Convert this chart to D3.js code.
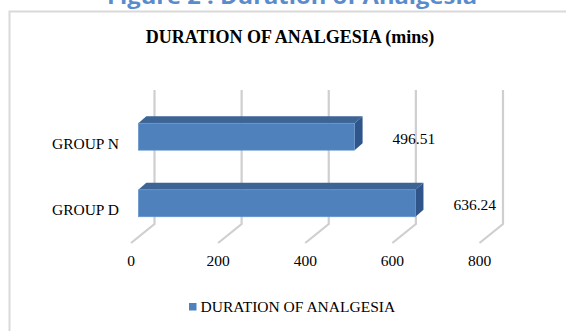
<!DOCTYPE html>
<html lang="en">
    <head>
        <meta charset="utf-8">
        <title>Duration of Analgesia</title>
        <script src="https://d3js.org/d3.v7.min.js"></script>
        <style type="text/css">
            html, body {
                margin: 0;
                padding: 0;
                background-color: white;
            }
            svg {
                display: block;
            }
            .serif {
                font-family: 'Liberation Serif', 'Times New Roman', serif;
                fill: black;
            }
        </style>
    </head>
    <body>
        <script type="text/javascript">
            // data
            const categories = ["GROUP N", "GROUP D"];
            const durations = [496.51, 636.24];
            const ticks = [0, 200, 400, 600, 800];
            const seriesName = "DURATION OF ANALGESIA";

            const w = 566, h = 331;
            const svg = d3.select("body").append("svg")
                          .attr("width", w)
                          .attr("height", h);

            // caption above the chart, mostly cut off at the top
            svg.append("text")
               .attr("x", 292)
               .attr("y", 4)
               .attr("text-anchor", "middle")
               .attr("font-family", "'Open Sans', sans-serif")
               .attr("font-weight", 700)
               .attr("font-size", 22)
               .attr("fill", "#5a8ccc")
               .attr("textLength", 370)
               .attr("lengthAdjust", "spacingAndGlyphs")
               .text("Figure 2 : Duration of Analgesia");

            // chart border
            svg.append("rect")
               .attr("x", 9.5).attr("y", 11.5)
               .attr("width", 700).attr("height", 500)
               .attr("fill", "none")
               .attr("stroke", "#d9d9d9")
               .attr("stroke-width", 2);

            svg.append("text")
               .attr("class", "serif")
               .attr("x", 290)
               .attr("y", 43)
               .attr("text-anchor", "middle")
               .attr("font-weight", "bold")
               .attr("font-size", 18)
               .text("DURATION OF ANALGESIA (mins)");

            // scales: back wall and front edge of the 3D floor
            const xBack = d3.scaleLinear().domain([0, 800]).range([154.5, 503]);
            const xFront = d3.scaleLinear().domain([0, 800]).range([131, 479.5]);
            const wallTop = 90, wallBottom = 224, floorFront = 243;
            const y = d3.scalePoint().domain(categories).range([136.7, 203.3]);
            const barH = 27, depthX = 8, depthY = -7, barShift = 7.3;

            // gridlines on the back wall and floor
            const grid = svg.append("g");
            ticks.forEach(t => {
                grid.append("path")
                    .attr("d", `M${xBack(t)},${wallTop} L${xBack(t)},${wallBottom} L${xFront(t)},${floorFront}`)
                    .attr("fill", "none")
                    .attr("stroke", "#cfcfcf")
                    .attr("stroke-width", 2.2);
            });

            // tick labels
            svg.append("g").selectAll("text")
               .data(ticks)
               .enter()
               .append("text")
               .attr("class", "serif")
               .attr("x", d => xFront(d))
               .attr("y", 266)
               .attr("text-anchor", "middle")
               .attr("font-size", 15.5)
               .text(d => d);

            // 3D bars
            const bars = svg.selectAll("g.bar")
                            .data(categories.map((c, i) => ({cat: c, value: durations[i]})))
                            .enter()
                            .append("g")
                            .attr("class", "bar");

            const x0 = d => xFront(0) + barShift;
            const x1 = d => xFront(d.value) + barShift;
            const yt = d => y(d.cat) - barH / 2;

            bars.append("path") // top face
                .attr("d", d => `M${x0(d)},${yt(d)} L${x1(d)},${yt(d)} L${x1(d) + depthX},${yt(d) + depthY} L${x0(d) + depthX},${yt(d) + depthY} Z`)
                .attr("fill", "#3c6596");

            bars.append("path") // right face
                .attr("d", d => `M${x1(d)},${yt(d)} L${x1(d) + depthX},${yt(d) + depthY} L${x1(d) + depthX},${yt(d) + depthY + barH} L${x1(d)},${yt(d) + barH} Z`)
                .attr("fill", "#30558a");

            bars.append("rect") // front face
                .attr("x", d => x0(d))
                .attr("y", d => yt(d))
                .attr("width", d => x1(d) - x0(d))
                .attr("height", barH)
                .attr("fill", "#4f81bd")
                .attr("stroke", "#6b97cc")
                .attr("stroke-width", 0.6);

            // value labels
            bars.append("text")
                .attr("class", "serif")
                .attr("x", d => x1(d) + 38)
                .attr("y", d => y(d.cat) + 7)
                .attr("font-size", 15.5)
                .text(d => d.value.toFixed(2));

            // category labels
            svg.append("g").selectAll("text")
               .data(categories)
               .enter()
               .append("text")
               .attr("class", "serif")
               .attr("x", 119)
               .attr("y", d => y(d) + 12)
               .attr("text-anchor", "end")
               .attr("font-size", 15.5)
               .text(d => d);

            // legend
            const legend = svg.append("g");
            legend.append("rect")
                  .attr("x", 189).attr("y", 303)
                  .attr("width", 7.5).attr("height", 7.5)
                  .attr("fill", "#4f81bd");
            legend.append("text")
                  .attr("class", "serif")
                  .attr("x", 200.5)
                  .attr("y", 312)
                  .attr("font-size", 15.5)
                  .text(seriesName);
        </script>
    </body>
</html>
